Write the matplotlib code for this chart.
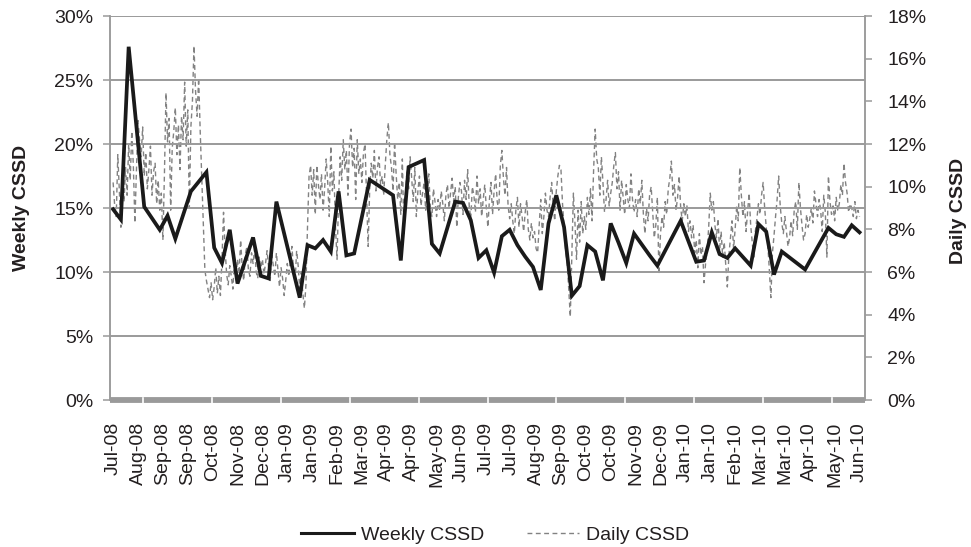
import numpy as np
import matplotlib

matplotlib.use("Agg")
import matplotlib.pyplot as plt
from matplotlib.ticker import FuncFormatter, MultipleLocator
from matplotlib.lines import Line2D

# tick labels every 16 trading days
tick_labels = [
    "Jul-08", "Aug-08", "Sep-08", "Sep-08", "Oct-08", "Nov-08", "Dec-08", "Jan-09",
    "Jan-09", "Feb-09", "Mar-09", "Apr-09", "Apr-09", "May-09", "Jun-09", "Jul-09",
    "Jul-09", "Aug-09", "Sep-09", "Oct-09", "Oct-09", "Nov-09", "Dec-09", "Jan-10",
    "Jan-10", "Feb-10", "Mar-10", "Mar-10", "Apr-10", "May-10", "Jun-10",
]
LABEL_STEP = 16

# weekly CSSD (%), turning points only: week number -> value
weekly_week = [0, 1, 2, 4, 6, 7, 8, 10, 12, 13, 14, 15, 16, 18, 19, 20, 21, 24, 25, 26,
               27, 28, 29, 30, 31, 33, 36, 37, 38, 40, 41, 42, 44, 45, 46, 47, 48, 49, 50,
               51, 52, 53, 54, 55, 56, 57, 58, 59, 60, 61, 62, 63, 64, 65, 66, 67, 69, 70,
               73, 75, 76, 77, 78, 79, 80, 82, 83, 84, 85, 86, 89, 92, 93, 94, 95, 96]
weekly_cssd = [14.9, 14.1, 27.6, 15.1, 13.3, 14.4, 12.6, 16.3, 17.8, 11.9, 10.7, 13.3,
               9.1, 12.7, 9.7, 9.5, 15.5, 8.0, 12.1, 11.85, 12.5, 11.6, 16.3, 11.3, 11.45,
               17.2, 16.0, 10.9, 18.2, 18.75, 12.2, 11.45, 15.5, 15.4, 14.05, 11.1, 11.7,
               9.95, 12.8, 13.3, 12.1, 11.2, 10.4, 8.6, 13.8, 16.0, 13.5, 8.15, 8.9, 12.1,
               11.6, 9.35, 13.8, 12.3, 10.7, 13.0, 11.3, 10.5, 14.0, 10.8, 10.9, 13.1, 11.4,
               11.1, 11.85, 10.5, 13.75, 13.15, 9.8, 11.6, 10.2, 13.45, 12.95, 12.75,
               13.65, 13.1]

# daily CSSD (%), one value per trading day
daily_cssd = [
    10.2, 9.1, 8.6, 11.5, 9.8, 8.1, 10.4, 9.3, 10.9, 9.6, 12.0, 10.3, 12.6, 11.0, 8.3, 10.8,
    13.1, 12.2, 11.4, 12.8, 10.5, 11.6, 9.9, 10.8, 11.9, 9.6, 10.7, 11.1, 9.2, 10.3, 8.9, 9.7,
    7.5, 10.6, 14.4, 12.1, 13.2, 8.9, 11.8, 12.6, 13.7, 11.5, 12.9, 10.8, 13.3, 12.2, 14.9, 11.9,
    13.6, 9.0, 12.8, 14.0, 16.6, 14.5, 13.3, 15.1, 12.6, 10.4, 8.2, 6.1, 5.6, 5.2, 4.8, 5.5,
    4.7, 5.3, 6.2, 5.0, 5.8, 4.9, 6.6, 8.8, 7.1, 5.9, 5.4, 6.3, 5.8, 5.2, 6.5, 5.7,
    6.6, 5.9, 7.5, 6.2, 5.6, 6.8, 7.2, 6.1, 5.8, 6.9, 6.4, 7.1, 6.0, 5.7, 6.7, 6.2,
    6.6, 5.9, 6.4, 7.0, 6.2, 5.6, 6.8, 6.3, 5.8, 6.9, 6.1, 5.3, 6.2, 5.7, 4.9, 5.6,
    6.4, 5.8, 6.6, 7.2, 6.1, 5.5, 7.0, 6.3, 5.2, 6.0, 5.0, 4.3, 5.4, 8.1, 10.5, 11.0,
    9.6, 10.8, 8.7, 11.0, 10.1, 9.4, 10.6, 8.9, 9.9, 11.3, 10.2, 8.6, 11.9, 9.8, 10.7, 8.1,
    6.6, 9.5, 11.4, 10.3, 12.2, 10.8, 11.7, 9.6, 12.0, 12.7, 10.9, 11.8, 9.4, 12.2, 10.6, 11.3,
    10.2, 11.6, 12.0, 9.5, 7.2, 9.9, 11.1, 10.4, 11.7, 9.8, 10.9, 11.4, 10.1, 10.5, 9.6, 11.0,
    12.2, 13.0, 11.5, 10.9, 9.8, 12.1, 10.6, 9.4, 10.2, 8.7, 11.3, 7.8, 9.6, 10.8, 9.9, 11.4,
    10.4, 9.3, 10.9, 8.6, 9.8, 10.5, 9.1, 9.7, 10.2, 8.9, 9.5, 10.6, 9.0, 8.6, 9.9, 9.3,
    8.6, 9.4, 8.9, 9.8, 9.2, 8.4, 9.6, 10.1, 9.0, 9.7, 10.4, 9.3, 10.0, 8.1, 9.5, 10.2,
    9.8, 8.7, 10.3, 9.4, 10.8, 9.1, 8.5, 10.0, 9.6, 8.8, 10.5, 9.2, 9.9, 8.6, 9.4, 10.1,
    9.0, 8.1, 9.4, 10.2, 8.7, 9.8, 10.6, 9.3, 8.9, 11.0, 11.7, 10.4, 9.6, 10.9, 9.1, 8.5,
    9.2, 8.4, 7.8, 8.9, 9.5, 8.1, 9.2, 8.6, 7.9, 8.8, 9.4, 8.0, 7.5, 8.3, 7.6, 7.9,
    7.1, 6.9, 8.2, 9.4, 7.8, 8.6, 9.7, 8.9, 8.6, 9.5, 10.2, 9.1, 8.4, 9.8, 10.5, 11.0,
    10.8, 9.2, 8.1, 7.0, 6.4, 5.2, 3.9, 6.8, 9.7, 8.3, 6.6, 8.9, 7.4, 9.3, 7.8, 8.6,
    8.0, 9.5, 8.7, 9.9, 8.4, 10.8, 12.7, 11.3, 10.9, 9.6, 11.4, 10.2, 8.8, 9.4, 10.3, 9.1,
    9.7, 10.2, 11.0, 11.6, 9.9, 10.7, 8.9, 10.3, 9.5, 8.7, 10.1, 9.4, 9.0, 10.6, 9.4, 8.8,
    9.4, 8.6, 9.9, 9.2, 10.3, 8.7, 7.8, 9.0, 8.4, 9.6, 10.0, 8.8, 7.6, 8.2, 9.5, 5.9,
    7.8, 8.6, 8.1, 9.3, 8.7, 9.9, 10.4, 11.2, 9.6, 10.1, 8.9, 9.5, 10.5, 9.0, 8.4, 9.2,
    8.6, 9.1, 7.9, 8.4, 7.6, 8.2, 6.9, 7.5, 6.2, 7.8, 6.8, 7.2, 5.5, 6.4, 7.0, 8.1,
    9.7, 8.9, 9.3, 8.2, 7.6, 8.5, 7.0, 7.9, 6.7, 7.4, 6.3, 5.3, 6.8, 7.6, 8.4, 7.1,
    8.0, 9.1, 8.4, 10.9, 9.6, 8.6, 9.3, 7.9, 8.8, 9.7, 8.2, 7.4, 6.6, 7.9, 8.5, 9.2,
    8.7, 9.6, 10.2, 9.0, 8.1, 7.3, 6.1, 4.8, 6.9, 7.7, 8.6, 9.4, 10.5, 9.1, 8.3, 7.8,
    8.6, 7.9, 7.2, 7.6, 8.4, 7.7, 8.9, 9.3, 8.0, 10.2, 9.0, 8.2, 7.5, 7.8, 8.7, 8.1,
    8.5, 9.0, 8.3, 9.8, 9.2, 8.6, 9.4, 8.9, 7.9, 9.6, 8.8, 6.7, 10.5, 9.3, 8.7, 9.1,
    8.4, 9.5, 8.9, 9.2, 10.1, 9.6, 11.1, 10.2, 9.7, 8.8, 9.2, 9.0, 8.6, 9.3, 8.5, 8.9,
    8.6,
]

GRID = "#9a9a9a"
TXT = "#231f20"
DASH = "#828282"
FS = 14

plt.rcParams["font.family"] = ["Liberation Sans", "DejaVu Sans"]

fig = plt.figure(figsize=(9.71, 5.47), dpi=100)
ax = fig.add_axes([0.1133, 0.2687, 0.7775, 0.702])
ax2 = ax.twinx()

x_daily = np.arange(len(daily_cssd))
x_weekly = np.array(weekly_week) * 5

ax2.plot(x_daily, daily_cssd, color=DASH, lw=1.0, linestyle=(0, (3.5, 2.5)))
ax.plot(x_weekly, weekly_cssd, color="#1a1a1a", lw=2.7, solid_joinstyle="miter")

ax.set_zorder(ax2.get_zorder() + 1)
ax.patch.set_visible(False)

ax.set_xlim(-2, 483.5)
ax.set_ylim(0, 30)
ax2.set_ylim(0, 18)

ax.yaxis.set_major_locator(MultipleLocator(5))
ax2.yaxis.set_major_locator(MultipleLocator(2))
ax.yaxis.set_major_formatter(FuncFormatter(lambda v, _: f"{v:.0f}%"))
ax2.yaxis.set_major_formatter(FuncFormatter(lambda v, _: f"{v:.0f}%"))

ax.yaxis.grid(True, color=GRID, lw=1.4)
ax.set_xticks(np.arange(len(tick_labels)) * LABEL_STEP)
ax.set_xticklabels(tick_labels, rotation=90, va="top", ha="center")
ax.tick_params(axis="x", length=0, pad=16, labelsize=FS, labelcolor=TXT)
ax.tick_params(axis="y", length=5, width=1.1, color=GRID, pad=7, labelsize=FS, labelcolor=TXT)
ax2.tick_params(axis="y", length=5, width=1.1, color=GRID, pad=11, labelsize=FS, labelcolor=TXT)

for a in (ax, ax2):
    a.spines["top"].set_visible(False)
    for s in ("left", "right"):
        a.spines[s].set_color(GRID)
        a.spines[s].set_linewidth(1.1)
    a.spines["bottom"].set_visible(False)
ax.spines["bottom"].set_visible(True)
ax.spines["bottom"].set_color(GRID)
ax.spines["bottom"].set_linewidth(4.2)
ax.spines["bottom"].set_capstyle("butt")

# small white notches in the thick bottom bar
trans = ax.get_xaxis_transform()
for xt in np.arange(19.3, 483, 44.3):
    ax.plot([xt, xt], [-0.012, 0.006], transform=trans, color="white", lw=1.2,
            clip_on=False, zorder=5)

fig.text(0.022, 0.62, "Weekly CSSD", rotation=90, ha="center", va="center",
         fontsize=FS, fontweight="bold", color=TXT)
fig.text(0.987, 0.615, "Daily CSSD", rotation=90, ha="center", va="center",
         fontsize=FS, fontweight="bold", color=TXT)

handles = [
    Line2D([], [], color="#1a1a1a", lw=2.2),
    Line2D([], [], color=DASH, lw=1.0, linestyle=(0, (3.5, 2.5))),
]
fig.legend(handles, ["Weekly CSSD", "Daily CSSD"], loc="center", bbox_to_anchor=(0.51, 0.022),
           ncol=2, frameon=False, fontsize=FS, handlelength=2.7, columnspacing=2.2,
           handletextpad=0.35, labelcolor=TXT)

fig.savefig("out.png", dpi=100)
